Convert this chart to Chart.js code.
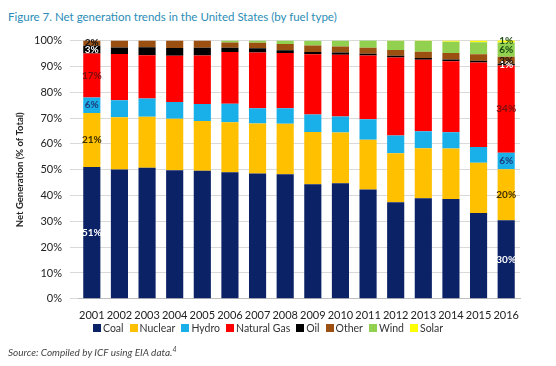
<!DOCTYPE html>
<html lang="en">
<head>
    <meta charset="UTF-8">
    <title>Net generation trends</title>
    <script src="https://cdn.jsdelivr.net/npm/chart.js"></script>
    <style>
        body { margin: 0; background: #fff; width: 556px; height: 366px; position: relative; overflow: hidden; font-family: Lato, "Liberation Sans", sans-serif; }
        #title { position: absolute; left: 8px; top: 10px; font-size: 11.5px; color: #2b8db6; }
        #source { position: absolute; left: 8px; top: 345px; font-size: 10px; font-style: italic; color: #444; }
        #wrap { position: absolute; left: 0; top: 26px; width: 540px; height: 298px; }
        #legend { position: absolute; left: 93px; top: 322px; display: flex; gap: 6px; font-size: 10.5px; color: #333; }
        #legend span { display: flex; align-items: center; }
        #legend i { display: inline-block; width: 8px; height: 8px; margin-right: 2px; }
    </style>
</head>
<body>
    <div id="title">Figure 7. Net generation trends in the United States (by fuel type)</div>
    <div id="wrap"><canvas id="genChart"></canvas></div>
    <div id="legend"></div>
    <div id="source">Source: Compiled by ICF using EIA data.<sup style="font-size:7px">4</sup></div>

    <script>
        // share of net generation, % of total
        const years = ['2001', '2002', '2003', '2004', '2005', '2006', '2007', '2008',
                       '2009', '2010', '2011', '2012', '2013', '2014', '2015', '2016'];
        const coal       = [51, 50.1, 50.8, 49.8, 49.6, 49.0, 48.5, 48.2, 44.4, 44.8, 42.3, 37.4, 38.9, 38.7, 33.2, 30.4];
        const nuclear    = [21, 20.2, 19.7, 19.9, 19.3, 19.4, 19.4, 19.6, 20.2, 19.6, 19.3, 19.0, 19.4, 19.5, 19.5, 19.8];
        const hydro      = [6, 6.6, 7.1, 6.5, 6.5, 7.1, 5.9, 6.0, 6.8, 6.2, 7.9, 6.8, 6.6, 6.3, 6.1, 6.4];
        const naturalGas = [17, 17.9, 16.7, 17.9, 18.8, 20.1, 21.6, 21.4, 23.3, 23.9, 24.7, 30.3, 27.7, 27.5, 32.7, 33.8];
        const oil        = [3, 2.5, 3.1, 3.0, 3.0, 1.6, 1.6, 1.1, 0.9, 0.9, 0.7, 0.6, 0.7, 0.7, 0.7, 0.6];
        const other      = [2, 2.7, 2.6, 2.9, 2.8, 2.1, 2.2, 2.4, 2.5, 2.3, 2.3, 2.3, 2.4, 2.5, 2.5, 2.7];
        const wind       = [0, 0, 0, 0, 0, 0.7, 0.8, 1.3, 1.8, 2.3, 2.9, 3.5, 4.1, 4.4, 4.7, 5.6];
        const solar      = [0, 0, 0, 0, 0, 0, 0, 0, 0, 0, 0, 0.1, 0.2, 0.4, 0.6, 0.9];
        const yTicks = [0, 10, 20, 30, 40, 50, 60, 70, 80, 90, 100];

        // which bars carry value labels
        const labelledBars = [0, 15];

        const series = [
            { label: 'Coal', data: coal, color: '#0b2266', text: '#ffffff' },
            { label: 'Nuclear', data: nuclear, color: '#ffc000', text: '#3b2c00' },
            { label: 'Hydro', data: hydro, color: '#19b0ea', text: '#1f3a78' },
            { label: 'Natural Gas', data: naturalGas, color: '#fe0000', text: '#7a0d0d' },
            { label: 'Oil', data: oil, color: '#000000', text: '#ffffff' },
            { label: 'Other', data: other, color: '#9b5011', text: '#111111' },
            { label: 'Wind', data: wind, color: '#92d050', text: '#1c4d12' },
            { label: 'Solar', data: solar, color: '#ffff00', text: '#1c4d12' }
        ];

        // legend as html so it can sit where the original one does
        const legendBox = document.getElementById('legend');
        series.forEach(s => {
            const item = document.createElement('span');
            item.innerHTML = `<i style="background:${s.color}"></i>${s.label}`;
            legendBox.appendChild(item);
        });

        const valueLabels = {
            id: 'valueLabels',
            afterDatasetsDraw(chart) {
                const ctx = chart.ctx;
                ctx.save();
                ctx.font = 'bold 10px Lato, "Liberation Sans", sans-serif';
                ctx.textAlign = 'center';
                ctx.textBaseline = 'middle';
                chart.data.datasets.forEach((ds, i) => {
                    const meta = chart.getDatasetMeta(i);
                    labelledBars.forEach(idx => {
                        const v = ds.data[idx];
                        if (!v) return;
                        const bar = meta.data[idx];
                        const yMid = (bar.y + bar.base) / 2;
                        ctx.fillStyle = series[i].text;
                        ctx.fillText(Math.round(v) + '%', bar.x, yMid);
                    });
                });
                ctx.restore();
            }
        };

        const ctx = document.getElementById('genChart').getContext('2d');
        new Chart(ctx, {
            type: 'bar',
            data: {
                labels: years,
                datasets: series.map(s => ({
                    label: s.label,
                    data: s.data,
                    backgroundColor: s.color,
                    borderWidth: 0,
                    categoryPercentage: 1,
                    barPercentage: 0.62
                }))
            },
            options: {
                responsive: true,
                maintainAspectRatio: false,
                animation: false,
                layout: { padding: { top: 8, left: 10, right: 20, bottom: 0 } },
                plugins: {
                    legend: { display: false },
                    tooltip: { enabled: false }
                },
                scales: {
                    x: {
                        stacked: true,
                        grid: { display: false },
                        border: { color: '#bfbfbf' },
                        ticks: {
                            color: '#222',
                            padding: 2,
                            maxRotation: 0,
                            autoSkip: false,
                            font: { size: 11, family: 'Lato, "Liberation Sans", sans-serif' }
                        }
                    },
                    y: {
                        stacked: true,
                        min: 0,
                        max: 100,
                        afterBuildTicks(axis) {
                            axis.ticks = yTicks.map(v => ({ value: v }));
                        },
                        afterFit(axis) { axis.width = 68; },
                        grid: { color: '#d9d9d9' },
                        border: { display: false },
                        ticks: {
                            color: '#222',
                            padding: 8,
                            font: { size: 11, family: 'Lato, "Liberation Sans", sans-serif' },
                            callback: v => v + '%'
                        },
                        title: {
                            display: true,
                            text: 'Net Generation (% of Total)',
                            color: '#222',
                            font: { size: 9.5, weight: 'bold', family: 'Lato, "Liberation Sans", sans-serif' }
                        }
                    }
                }
            },
            plugins: [valueLabels]
        });
    </script>
</body>
</html>
